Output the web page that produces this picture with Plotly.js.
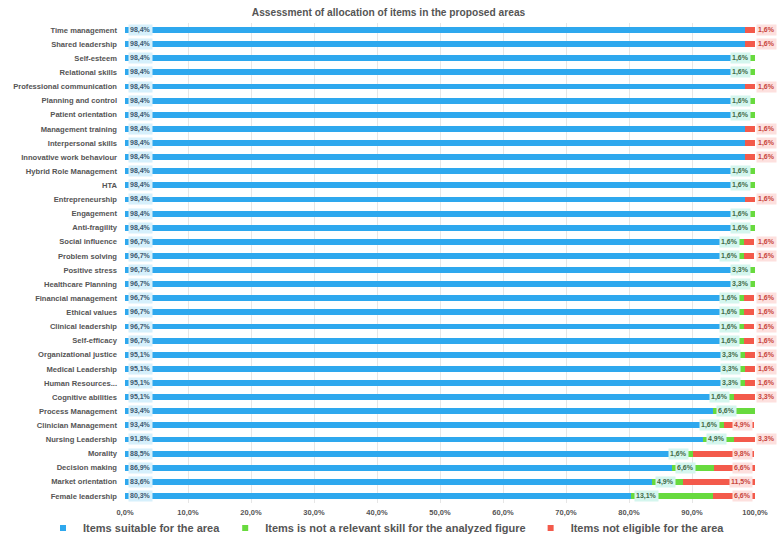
<!DOCTYPE html>
<html>
<head>
<meta charset="utf-8">
<script src="https://cdn.plot.ly/plotly-3.0.1.min.js"></script>
<style>
html,body{margin:0;padding:0;background:#fff;}
#chart{width:777px;height:543px;}
</style>
</head>
<body>
<div id="chart"></div>
<script>
var categories = [
  "Time management","Shared leadership","Self-esteem","Relational skills",
  "Professional communication","Planning and control","Patient orientation",
  "Management training","Interpersonal skills","Innovative work behaviour",
  "Hybrid Role Management","HTA","Entrepreneurship","Engagement","Anti-fragility",
  "Social influence","Problem solving","Positive stress","Healthcare Planning",
  "Financial management","Ethical values","Clinical leadership","Self-efficacy",
  "Organizational justice","Medical Leadership","Human Resources...","Cognitive abilities",
  "Process Management","Clinician Management","Nursing Leadership","Morality",
  "Decision making","Market orientation","Female leadership"
];
var suitable = [98.4,98.4,98.4,98.4,98.4,98.4,98.4,98.4,98.4,98.4,98.4,98.4,98.4,98.4,98.4,
  96.7,96.7,96.7,96.7,96.7,96.7,96.7,96.7,95.1,95.1,95.1,95.1,93.4,93.4,91.8,88.5,86.9,83.6,80.3];
var notRelevant = [0,0,1.6,1.6,0,1.6,1.6,0,0,0,1.6,1.6,0,1.6,1.6,
  1.6,1.6,3.3,3.3,1.6,1.6,1.6,1.6,3.3,3.3,3.3,1.6,6.6,1.6,4.9,1.6,6.6,4.9,13.1];
var notEligible = [1.6,1.6,0,0,1.6,0,0,1.6,1.6,1.6,0,0,1.6,0,0,
  1.6,1.6,0,0,1.6,1.6,1.6,1.6,1.6,1.6,1.6,3.3,0,4.9,3.3,9.8,6.6,11.5,6.6];
var seriesNames = ["Items suitable for the area","Items is not a relevant skill for the analyzed figure","Items not eligible for the area"];
var xTicks = [0,10,20,30,40,50,60,70,80,90,100];

var cBlue = "#2ea8ee", cGreen = "#68da3e", cRed = "#f35a4b";
function fmt(v){ return v.toFixed(1).replace(".", ",") + "%"; }

var FONT = "Liberation Sans, Arial, sans-serif";
var traces = [
  {type:"bar", orientation:"h", y:categories, x:suitable, name:seriesNames[0], marker:{color:cBlue}, showlegend:false, hoverinfo:"x+y"},
  {type:"bar", orientation:"h", y:categories, x:notRelevant, name:seriesNames[1], marker:{color:cGreen}, showlegend:false, hoverinfo:"x+y"},
  {type:"bar", orientation:"h", y:categories, x:notEligible, name:seriesNames[2], marker:{color:cRed}, showlegend:false, hoverinfo:"x+y"}
];
[cBlue,cGreen,cRed].forEach(function(c,i){
  traces.push({type:"scatter", mode:"markers", x:[null], y:[null], name:seriesNames[i],
    marker:{symbol:"square", size:6, color:c}, showlegend:true, hoverinfo:"skip"});
});

var ann = [];
var lblFont = {family:FONT, size:7, weight:"bold"};
for (var i=0;i<categories.length;i++){
  ann.push({x:0, y:categories[i], xref:"x", yref:"y", text:fmt(suitable[i]), showarrow:false,
    xanchor:"left", xshift:3, bgcolor:"#d6f0fc", borderpad:1,
    font:Object.assign({}, lblFont, {color:"#3b5870"})});
  if (notRelevant[i] > 0){
    var g = notRelevant[i];
    var gA = g >= 4 ? {x:suitable[i], xanchor:"left", xshift:3} : {x:suitable[i]+g, xanchor:"right", xshift:-4};
    ann.push(Object.assign({y:categories[i], xref:"x", yref:"y", text:fmt(g), showarrow:false,
      bgcolor:"#d4f6ee", borderpad:1, font:Object.assign({}, lblFont, {color:"#3f6a47"})}, gA));
  }
  if (notEligible[i] > 0){
    var r = notEligible[i];
    var rA = r >= 4 ? {x:100, xanchor:"right", xshift:-2} : {x:100, xanchor:"left", xshift:1};
    ann.push(Object.assign({y:categories[i], xref:"x", yref:"y", text:fmt(r), showarrow:false,
      bgcolor:"#fde0de", borderpad:1, font:Object.assign({}, lblFont, {color:"#c8443a"})}, rA));
  }
}

var layout = {
  width:777, height:543,
  margin:{l:125, r:22, t:23, b:40, autoexpand:false},
  paper_bgcolor:"#fff", plot_bgcolor:"#fff",
  barmode:"stack", bargap:0.58,
  font:{family:FONT, color:"#555"},
  title:{text:"Assessment of allocation of items in the proposed areas",
    font:{family:FONT, size:10.2, color:"#555", weight:"bold"},
    xref:"container", x:0.5, xanchor:"center", yref:"container", y:1-12/543, yanchor:"middle"},
  xaxis:{range:[0,100], tickvals:xTicks, ticktext:xTicks.map(fmt), showgrid:true, gridcolor:"#e6e6e6",
    zeroline:false, showline:false, ticks:"", ticklabelstandoff:3,
    tickfont:{family:FONT, size:7.5, color:"#555", weight:"bold"}, fixedrange:true},
  yaxis:{type:"category", autorange:"reversed", showgrid:false, zeroline:false, showline:false, ticks:"",
    ticklabelstandoff:7, tickfont:{family:FONT, size:7.6, color:"#555", weight:"bold"}, fixedrange:true},
  legend:{orientation:"h", traceorder:"normal", xref:"paper", x:(43-125)/630, xanchor:"left",
    yref:"paper", y:-(528-503)/480, yanchor:"middle",
    font:{family:FONT, size:11, color:"#555", weight:"bold"}, itemwidth:30, bgcolor:"rgba(0,0,0,0)"},
  annotations:ann,
  showlegend:true
};
Plotly.newPlot("chart", traces, layout, {displayModeBar:false, staticPlot:true});
</script>
</body>
</html>
